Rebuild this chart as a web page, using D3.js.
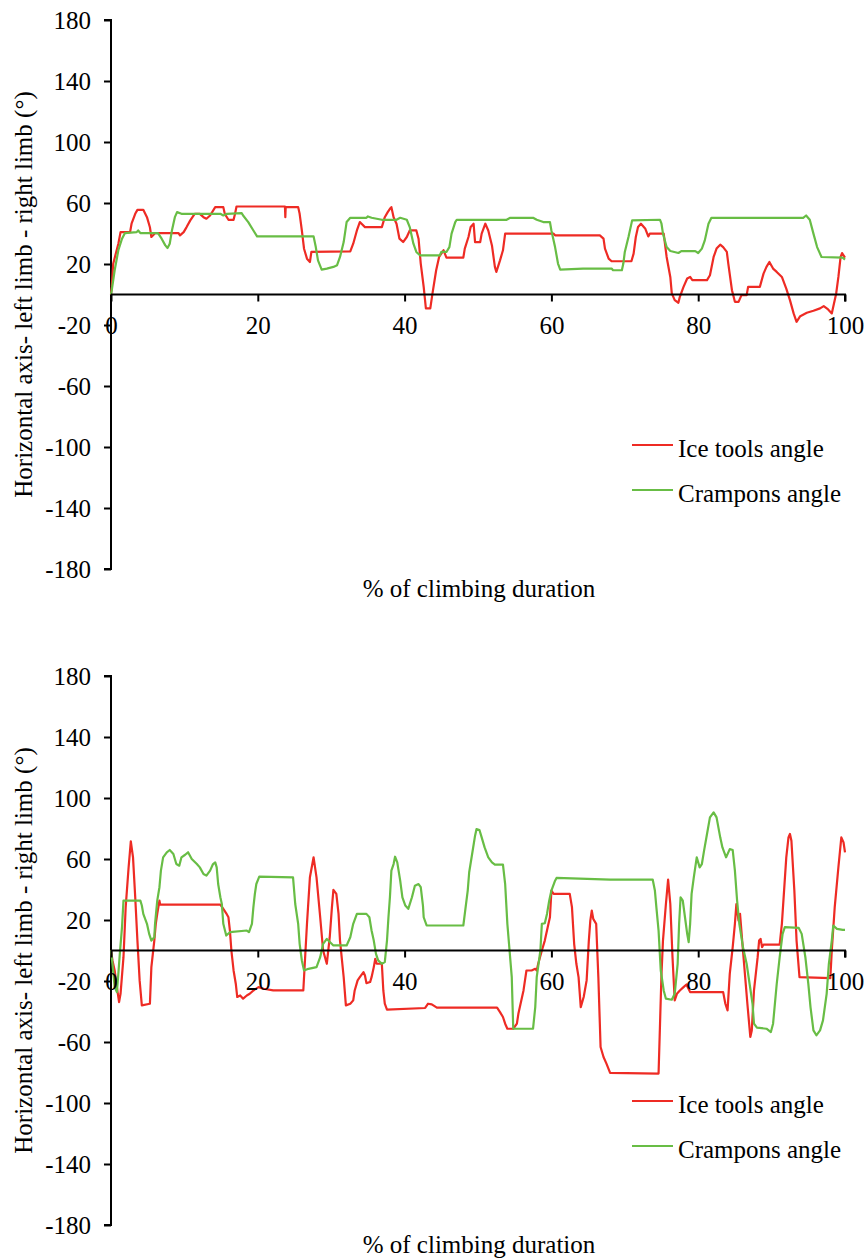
<!DOCTYPE html>
<html>
<head>
<meta charset="utf-8">
<script src="https://cdn.jsdelivr.net/npm/d3@7"></script>
<style>
  html, body { margin: 0; padding: 0; background: #fff; }
  svg text { font-family: "Liberation Serif", "Times New Roman", serif; fill: #000; }
</style>
</head>
<body>
<svg id="chart" width="865" height="1259"></svg>
<script>
// ---------------- DATA ----------------
const xTicks = [0, 20, 40, 60, 80, 100];
const yTicks = [180, 140, 100, 60, 20, -20, -60, -100, -140, -180];
const seriesNames = ["Ice tools angle", "Crampons angle"];
const xTitle = "% of climbing duration";
const yTitle = "Horizontal axis- left limb - right limb (°)";

// Top panel: [% of climbing duration, angle]
const topIce = [
[0,0],[0.1,5],[0.3,20.2],[1.0,33.3],[1.3,40.9],[2.6,40.9],[2.8,46.4],[3.3,52.9],[3.6,55.5],[4.4,55.5],
[4.9,50.7],[5.3,44.1],[5.5,37.7],[5.8,39.2],[6.0,40.3],[9.2,40.3],[9.4,38.8],[9.9,40.9],[10.3,44.2],[10.8,48.6],
[11.4,52.9],[12.1,52.9],[12.6,50.7],[13.0,49.7],[13.5,51.8],[14.2,57.3],[15.3,57.3],[15.5,52.9],[16.0,49],[16.7,49],
[16.9,52.9],[17.1,57.7],[23.7,57.7],[23.75,50.7],[23.8,57.3],[25.5,57.3],[25.7,52.9],[26.0,42],[26.3,30],[26.7,23.5],
[27.1,21.3],[27.3,27.9],[32.6,28.3],[33.0,33.3],[33.5,42],[33.9,47.5],[34.6,44.2],[36.9,44.2],[37.3,50.7],[37.7,54],
[38.0,56.2],[38.2,57.3],[38.5,50.7],[38.9,46.4],[39.3,36.6],[39.8,34.4],[40.3,37.7],[40.7,42],[41.6,42],[41.9,36.6],
[42.2,20.3],[42.6,5],[42.9,-9.1],[43.5,-9.1],[43.8,0.7],[44.3,15.9],[44.7,24.6],[45.3,29],[45.7,24.2],[48.0,24.2],
[48.2,30.1],[48.7,37.7],[49.0,44.2],[49.4,46.4],[49.6,34.4],[50.3,34.4],[50.5,39.9],[51.0,46.4],[51.4,42],[51.9,32.2],
[52.3,18.1],[52.5,14.8],[53.0,22.4],[53.4,29],[53.7,39.9],[60.3,39.9],[60.5,38.8],[66.6,38.8],[67.1,36.6],[67.3,30.1],
[67.8,23.5],[68.2,21.8],[70.9,21.8],[71.2,26.8],[71.5,37.7],[71.8,44.2],[72.2,46.4],[72.8,43.1],[73.2,38.1],[73.4,39.9],
[75.3,39.9],[75.7,24.6],[76.2,11.5],[76.4,0.7],[76.8,-3.7],[77.3,-5.4],[77.5,-1.5],[78.0,5],[78.5,10.5],[78.9,11.5],
[79.2,9.4],[81.2,9.4],[81.6,12.6],[82.1,24.6],[82.5,30.1],[83.0,32.7],[83.4,31.1],[83.9,27.9],[84.1,20.3],[84.6,2.8],
[85.0,-4.8],[85.5,-4.8],[85.9,-0.4],[86.6,-0.4],[86.8,5],[88.4,5],[88.9,13.7],[89.3,18.1],[89.7,21.3],[90.2,17],
[90.7,14.8],[91.4,11.5],[92.0,3.9],[92.5,-3.7],[93.0,-12.4],[93.4,-17.9],[93.9,-14.2],[94.8,-12],[95.7,-10.7],[96.6,-9.1],
[97.1,-7.6],[97.7,-9.8],[98.2,-12.4],[98.4,-8.1],[98.8,0.7],[99.1,11.5],[99.4,24.6],[99.6,27.2],[100,24.2]
];
const topCrampons = [
[0,0],[0.1,2.8],[0.5,15.9],[1.0,29],[1.5,36.6],[1.9,40.3],[3.5,40.9],[3.7,42],[4.0,40.3],[6.4,40.3],
[6.9,36.6],[7.4,32.2],[7.7,30.5],[8.0,33.3],[8.3,42],[8.7,50.7],[9.0,54],[9.6,52.9],[14.9,52.9],[15.3,51.8],
[15.8,52.9],[17.8,53.4],[18.0,51.8],[18.7,47.5],[19.4,42],[19.9,38.1],[27.6,38.1],[27.9,31.1],[28.2,22.4],[28.7,16.3],
[29.4,17],[30.3,18.1],[30.8,19.2],[31.2,24.6],[31.7,34.4],[32.1,47.5],[32.6,50.3],[34.8,50.3],[35.0,51.2],[35.5,50.3],
[36.9,49],[38.9,49],[39.4,50.3],[40.3,49],[40.7,44.2],[41.2,33.3],[41.6,27.9],[42.1,25.7],[44.8,25.7],[45.0,27.9],
[45.7,27.9],[46.1,31.1],[46.4,39.9],[46.9,47.5],[47.1,49],[53.9,49],[54.4,50.3],[57.5,50.3],[58.0,49],[58.9,47.5],
[59.8,47.5],[60.0,42],[60.5,31.1],[60.9,20.3],[61.2,16.3],[64.3,17],[68.2,17],[68.4,15.9],[69.6,15.9],[69.8,20.3],
[70.0,27.9],[70.5,37.7],[71.0,48.6],[74.8,49],[75.0,46.4],[75.2,39.9],[75.7,31.1],[76.2,28.5],[77.3,27.2],[77.7,28.5],
[79.6,28.5],[80.0,27.2],[80.5,30.1],[80.9,35.5],[81.4,46.4],[81.8,50.3],[94.3,50.3],[94.7,51.8],[95.2,49],[95.7,39.9],
[96.2,31.1],[96.8,24.6],[99.7,24.2],[100,22.9]
];

// Bottom panel: [% of climbing duration, angle]
const bottomIce = [
[0,0],[0.2,-6.5],[0.5,-13.1],[0.8,-24],[1.1,-33.8],[1.3,-28.4],[1.7,-4.4],[2.0,28.4],[2.4,54.6],[2.7,71.6],
[3.0,61.1],[3.3,34.9],[3.6,6.5],[3.9,-19.6],[4.2,-36],[5.3,-34.9],[5.5,-10.9],[5.9,6.5],[6.1,17.5],[6.3,24],
[6.6,32.7],[6.7,30.1],[14.9,30.1],[15.3,27.3],[15.7,24.4],[16.0,21.8],[16.2,13.1],[16.4,0],[16.7,-13.1],[17.0,-21.8],
[17.2,-30.5],[17.6,-29.5],[18.0,-31.6],[18.5,-29.5],[18.9,-28.4],[19.4,-26.2],[20.1,-24],[20.8,-25.1],[22.1,-26.2],[26.2,-26.2],
[26.4,-8.7],[26.7,17.5],[27.1,48],[27.6,61.1],[28.0,48],[28.5,21.8],[28.9,0],[29.4,-8.7],[29.8,8.7],[30.1,28.4],
[30.3,39.7],[30.7,37.1],[31.0,24],[31.2,6.5],[31.7,-17.5],[32.0,-36],[32.6,-34.9],[33.0,-32.7],[33.2,-26.2],[33.6,-19.6],
[33.9,-17.5],[34.4,-14.2],[34.6,-16.4],[34.8,-21.4],[35.3,-20.7],[35.5,-17.5],[35.8,-10.9],[36.0,-5.5],[36.2,-8.7],[36.9,-8.7],
[37.1,-26.2],[37.3,-34.9],[37.6,-38.8],[42.8,-37.7],[43.2,-34.9],[43.7,-35.3],[44.4,-37.5],[52.6,-37.5],[53.0,-40.4],[53.4,-43.6],
[53.7,-48],[54.0,-51.3],[54.8,-51.3],[55.3,-48],[55.5,-41.5],[55.8,-34.9],[56.2,-26.2],[56.4,-19.6],[56.6,-13.1],[57.3,-13.1],
[57.8,-12],[58.0,-13.1],[58.2,-8.7],[58.7,0],[59.1,6.5],[59.6,17.5],[59.8,21.8],[60.0,39.3],[60.3,37.1],[62.5,37.1],
[62.8,28.4],[63.1,4.4],[63.4,-8.7],[63.7,-17.5],[64.0,-37.1],[64.4,-30.5],[64.8,-19.6],[65.1,6.5],[65.3,19.6],[65.5,26.2],
[65.7,20.7],[66.1,17.5],[66.4,-17.9],[66.7,-63.3],[67.1,-69.8],[67.5,-74.2],[68.0,-80.3],[74.6,-80.7],[74.8,-48],[75.0,-15.3],
[75.2,6.5],[75.6,30.5],[75.9,46.5],[76.2,30.5],[76.5,-4.4],[76.8,-32.7],[77.1,-28.4],[77.5,-26.2],[78.0,-24],[78.4,-22.3],
[78.9,-27.3],[83.4,-27.3],[83.7,-34.9],[84.0,-39.3],[84.3,-15.3],[84.7,2.2],[85.0,17.5],[85.2,30.5],[85.5,19.6],[85.7,24],
[86.1,0],[86.4,-17.5],[86.7,-34.9],[87.1,-56.7],[87.3,-52.4],[87.6,-26.2],[87.9,-13.1],[88.1,-4.4],[88.3,6.5],[88.5,7.6],
[88.7,2.2],[88.9,3.9],[91.1,3.9],[91.4,17.5],[91.7,39.3],[92.0,61.1],[92.3,74.2],[92.5,76.4],[92.7,72],[93.1,39.3],
[93.4,6.5],[93.8,-17.5],[98.0,-18.1],[98.2,0],[98.6,28.4],[99.1,54.6],[99.5,74.2],[99.8,70.9],[100,64.4]
];
const bottomCrampons = [
[0,0],[0.2,-8.7],[0.5,-24],[0.8,-27.3],[1.0,-15.3],[1.2,-2.2],[1.5,15.3],[1.7,32.7],[4.0,32.7],[4.2,29.5],
[4.4,24],[4.9,17.5],[5.2,10.9],[5.5,6.5],[5.9,8.7],[6.0,17.5],[6.3,32.7],[6.6,41.5],[6.8,52.4],[7.1,61.1],
[7.6,64.4],[8.0,65.9],[8.5,63.3],[8.9,56.7],[9.3,55.6],[9.6,61.1],[10.1,62.8],[10.5,64.4],[11.0,60],[11.7,56.7],
[12.1,54.5],[12.6,50.2],[13.0,49.1],[13.5,52.4],[13.9,56.7],[14.2,57.8],[14.4,54.5],[14.6,43.6],[14.9,34.9],[15.1,30.5],
[15.3,17.5],[15.7,9.8],[16.2,12],[18.5,13.1],[18.8,12],[19.2,17.5],[19.4,28.4],[19.6,37.1],[19.8,43.6],[20.2,48.4],
[24.8,48],[25.1,30.5],[25.5,17.5],[25.7,4.4],[26.0,-6.5],[26.3,-13.1],[26.9,-12],[28.0,-10.9],[28.5,-4.4],[28.9,4.4],
[29.4,7.6],[30.3,3.3],[32.1,3.3],[32.6,8.7],[33.0,17.5],[33.5,24],[34.8,24],[35.2,21.8],[35.5,13.1],[35.8,6.5],
[36.1,-2.2],[36.4,-6.5],[36.9,-8.7],[37.3,-7.6],[37.6,6.5],[37.8,21.8],[38.0,34.9],[38.2,52.4],[38.5,56.7],[38.7,61.5],
[39.0,57.8],[39.4,45.8],[39.7,34.9],[40.1,29.5],[40.5,27.3],[41.0,34.9],[41.4,42.5],[41.9,43.6],[42.2,41.5],[42.5,29.5],
[42.6,21.8],[43.0,16.4],[48.0,16.4],[48.2,24],[48.6,39.3],[48.8,51.3],[49.2,63.3],[49.6,75.3],[49.8,79.6],[50.2,79],
[50.5,74.2],[50.9,67.6],[51.4,61.1],[51.9,57.8],[52.3,56.3],[53.4,56.3],[53.7,43.6],[54.0,17.5],[54.3,0],[54.6,-17.5],
[54.8,-51.3],[57.5,-51.3],[57.8,-37.1],[58.0,-17.5],[58.5,0],[58.7,17.5],[59.1,17.9],[59.4,24],[59.7,32.7],[60.0,39.3],
[60.5,45.8],[60.7,47.6],[68.0,46.5],[73.8,46.5],[74.1,39.3],[74.3,28.4],[74.6,13.1],[74.9,-13.1],[75.3,-26.2],[75.6,-31.6],
[76.4,-32.3],[76.8,-28.4],[77.2,-8.7],[77.4,17.5],[77.6,34.9],[77.9,32.7],[78.2,21.8],[78.5,10.9],[78.7,5.5],[78.9,17.5],
[79.1,37.1],[79.4,48],[79.8,61.1],[80.2,54.5],[80.5,56.7],[80.8,65.5],[81.2,76.4],[81.6,87.3],[82.1,90.6],[82.5,87.3],
[83.0,74.2],[83.3,67.6],[83.8,61.1],[84.3,66.5],[84.7,65.9],[85.0,52.4],[85.3,32.7],[85.6,17.5],[86.1,2.2],[86.6,-8.7],
[87.0,-21.8],[87.4,-34.9],[87.6,-48],[88.0,-50.6],[89.3,-51.3],[89.9,-53.5],[90.2,-48],[90.7,-21.8],[91.1,-4.4],[91.5,10.9],
[91.8,15.3],[93.7,14.8],[94.1,10.9],[94.6,-4.4],[95.0,-21.8],[95.3,-37.1],[95.7,-52.4],[96.1,-55.6],[96.6,-52.4],[97.0,-45.8],
[97.5,-28.4],[97.8,-8.7],[98.2,6.5],[98.4,16.4],[98.9,14.2],[99.7,13.5],[100,13.5]
];

// ---------------- DRAW ----------------
const colors = ["#ee2b24", "#68bd45"];
const svg = d3.select("#chart");
const FONT = 25;
const fmt = d => String(d); // plain hyphen-minus as in the reference

function panel(offsetY, iceData, crampData) {
  const g = svg.append("g").attr("transform", `translate(0,${offsetY})`);
  const x = d3.scaleLinear().domain([0, 100]).range([111, 845]);
  const y = d3.scaleLinear().domain([-180, 180]).range([569, 20]);

  // y axis
  const yAxis = d3.axisLeft(y).tickValues(yTicks).tickSize(7).tickPadding(13).tickFormat(fmt);
  const ya = g.append("g").attr("transform", "translate(111,0)").call(yAxis);
  ya.select(".domain").attr("stroke", "#000").attr("stroke-width", 2).attr("d", `M-7,${y(180)}H0V${y(-180)}H-7`);
  ya.selectAll(".tick line").attr("stroke", "#000").attr("stroke-width", 2);
  ya.selectAll(".tick text").style("font-size", FONT + "px").attr("fill", "#000")
    .style("font-family", '"Liberation Serif", serif');

  // series lines
  const line = d3.line().x(d => x(d[0])).y(d => y(d[1]));
  [iceData, crampData].forEach((data, i) => {
    g.append("path").datum(data)
      .attr("fill", "none").attr("stroke", colors[i]).attr("stroke-width", 2.2)
      .attr("stroke-linejoin", "round").attr("d", line);
  });

  // x axis at zero
  const xAxis = d3.axisBottom(x).tickValues(xTicks).tickSize(7).tickPadding(0).tickFormat(fmt);
  const xa = g.append("g").attr("transform", `translate(0,${y(0)})`).call(xAxis);
  xa.select(".domain").attr("stroke", "#000").attr("stroke-width", 2).attr("d", `M${x(0)},0H${x(100)}V7`);
  xa.selectAll(".tick line").attr("stroke", "#000").attr("stroke-width", 2);
  xa.selectAll(".tick text").style("font-size", FONT + "px").attr("fill", "#000")
    .style("font-family", '"Liberation Serif", serif')
    .attr("y", 31).attr("dy", "0.35em");

  // axis titles
  g.append("text").attr("x", 479).attr("y", 597).attr("text-anchor", "middle")
    .style("font-size", FONT + "px").text(xTitle);
  g.append("text").attr("transform", `translate(32,${y(0)}) rotate(-90)`).attr("text-anchor", "middle")
    .style("font-size", FONT + "px").text(yTitle);

  // legend
  const legY = [445, 490];
  seriesNames.forEach((name, i) => {
    g.append("line").attr("x1", 632).attr("x2", 673).attr("y1", legY[i]).attr("y2", legY[i])
      .attr("stroke", colors[i]).attr("stroke-width", 2.2);
    g.append("text").attr("x", 678).attr("y", legY[i] + 12)
      .style("font-size", FONT + "px").text(name);
  });
}

panel(0, topIce, topCrampons);
panel(656, bottomIce, bottomCrampons);
</script>
</body>
</html>
